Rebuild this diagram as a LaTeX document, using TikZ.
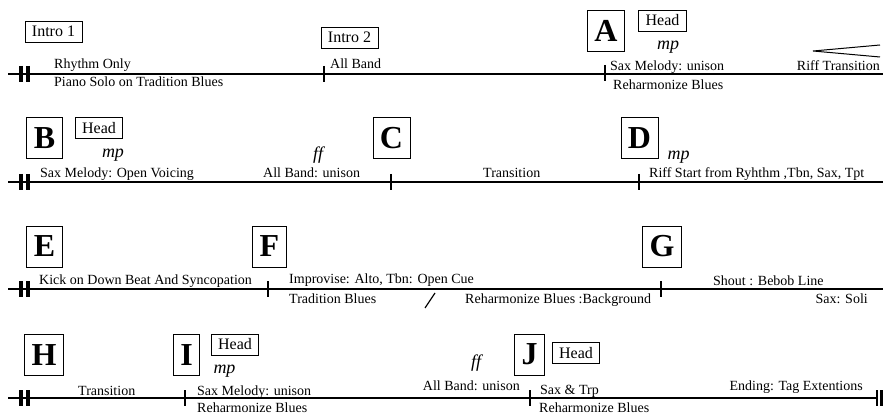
\documentclass[tikz,border=0pt]{standalone}
\usepackage{fontspec}
\setmainfont{Liberation Serif}

\begin{document}
\begin{tikzpicture}[x=1pt,y=-1pt,
    txt/.style={font=\fontsize{14}{16}\selectfont, inner sep=0pt},
    rehearsal/.style={draw, line width=0.8pt, font=\bfseries\fontsize{32}{32}\selectfont,
      minimum height=41pt, inner xsep=7pt, inner ysep=0pt},
    tagbox/.style={draw, line width=0.8pt, font=\fontsize{16}{16}\selectfont,
      minimum height=21pt, inner xsep=7pt, inner ysep=0pt},
    dyn/.style={font=\itshape\fontsize{18}{18}\selectfont, inner sep=0pt, anchor=base},
    staff/.style={line width=1.2pt},
    barline/.style={line width=1.4pt},
    repeatbar/.style={line width=4pt}]

    % Page
    \path[fill=white,use as bounding box] (0,0) rectangle (883,414);

    % Row 1
    \coordinate (r1s) at (8,74);
    \coordinate (r1e) at (883,74);
    \draw[staff] (r1s) -- (r1e);
    \draw[repeatbar] (21,66) -- (21,82);
    \draw[repeatbar] (28,66) -- (28,82);
    \draw[barline] (324,66) -- (324,82);
    \draw[barline] (605,65) -- (605,81);

    \node[tagbox] (intro1) at (53.5,31.5) {Intro 1};
    \node[tagbox] (intro2) at (349.5,37.5) {Intro 2};
    \node[rehearsal] (markA) at (606,31) {A};
    \node[tagbox] (headA) at (662.5,20.5) {Head};
    \node[dyn] (dynA) at (668,50) {mp};

    \node[txt, anchor=base west] (rhythm) at (54,69) {Rhythm Only};
    \node[txt, anchor=base west] (piano) at (54,87) {Piano Solo on Tradition Blues};
    \node[txt, anchor=base west] (allband) at (330,69) {All Band};
    \node[txt, anchor=base west] (saxA) at (610,71) {Sax Melody: unison};
    \node[txt, anchor=base west] (reharmA) at (613,90) {Reharmonize Blues};
    \node[txt, anchor=base east] (riffT) at (880,71) {Riff Transition};

    % Crescendo
    \coordinate (cresc) at (813,51);
    \draw[line width=1pt] (880,45) -- (cresc) -- (880,57);

    % Row 2
    \coordinate (r2s) at (8,182);
    \coordinate (r2e) at (883,182);
    \draw[staff] (r2s) -- (r2e);
    \draw[repeatbar] (21,174) -- (21,190);
    \draw[repeatbar] (28,174) -- (28,190);
    \draw[barline] (391,174) -- (391,190);
    \draw[barline] (639,174) -- (639,190);

    \node[rehearsal] (markB) at (44.5,138) {B};
    \node[tagbox] (headB) at (99,128) {Head};
    \node[dyn] (dynB) at (113,158) {mp};
    \node[dyn] (dynff1) at (318,160) {ff};
    \node[rehearsal] (markC) at (391.5,138) {C};
    \node[rehearsal] (markD) at (639.5,138) {D};
    \node[dyn] (dynD) at (678.5,160) {mp};

    \node[txt, anchor=base west] (saxB) at (40,178) {Sax Melody: Open Voicing};
    \node[txt, anchor=base west] (unisonB) at (263,178) {All Band: unison};
    \node[txt, anchor=base west] (transC) at (483,178) {Transition};
    \node[txt, anchor=base west] (riffD) at (649,178) {Riff Start from Ryhthm ,Tbn, Sax, Tpt};

    % Row 3
    \coordinate (r3s) at (8,289);
    \coordinate (r3e) at (883,289);
    \draw[staff] (r3s) -- (r3e);
    \draw[repeatbar] (21,281) -- (21,297);
    \draw[repeatbar] (28,281) -- (28,297);
    \draw[barline] (268,281) -- (268,297);
    \draw[barline] (661,281) -- (661,297);
    \draw[line width=1.2pt] (425,308) -- (435,293);

    \node[rehearsal] (markE) at (44.5,246.5) {E};
    \node[rehearsal] (markF) at (269.5,246.5) {F};
    \node[rehearsal] (markG) at (662,246.5) {G};

    \node[txt, anchor=base west] (kick) at (39,284) {Kick on Down Beat And Syncopation};
    \node[txt, anchor=base west] (improv) at (289,283) {Improvise: Alto, Tbn: Open Cue};
    \node[txt, anchor=base west] (tradF) at (289,303) {Tradition Blues};
    \node[txt, anchor=base west] (backgr) at (465,303) {Reharmonize Blues :Background};
    \node[txt, anchor=base west] (shout) at (713,285) {Shout : Bebob Line};
    \node[txt, anchor=base east] (soli) at (868,303) {Sax: Soli};

    % Row 4
    \coordinate (r4s) at (8,398);
    \coordinate (r4e) at (877,398);
    \draw[staff] (r4s) -- (r4e);
    \draw[repeatbar] (21,390) -- (21,406);
    \draw[repeatbar] (28,390) -- (28,406);
    \draw[barline] (185,390) -- (185,406);
    \draw[barline] (530,390) -- (530,406);
    % Final bar
    \draw[barline] (877,390) -- (877,406);
    \draw[line width=3pt] (881.5,390) -- (881.5,406);

    \node[rehearsal] (markH) at (44,355) {H};
    \node[rehearsal] (markI) at (186.5,355) {I};
    \node[tagbox] (headI) at (235,344.5) {Head};
    \node[dyn] (dynI) at (224.5,373) {mp};
    \node[dyn] (dynff2) at (476,367) {ff};
    \node[rehearsal] (markJ) at (529.5,354.5) {J};
    \node[tagbox] (headJ) at (576,353) {Head};

    \node[txt, anchor=base west] (transH) at (78,395) {Transition};
    \node[txt, anchor=base west] (saxI) at (197,395) {Sax Melody: unison};
    \node[txt, anchor=base west] (reharmI) at (197,412) {Reharmonize Blues};
    \node[txt, anchor=base east] (unisonI) at (520,390) {All Band: unison};
    \node[txt, anchor=base west] (saxJ) at (540,394) {Sax \& Trp};
    \node[txt, anchor=base west] (reharmJ) at (539,412) {Reharmonize Blues};
    \node[txt, anchor=base east] (ending) at (863,390) {Ending: Tag Extentions};
\end{tikzpicture}
\end{document}
